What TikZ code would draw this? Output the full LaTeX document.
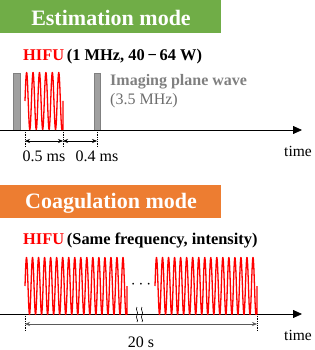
\documentclass[tikz,border=0pt]{standalone}
\usepackage{fontspec}
\setmainfont{Liberation Serif}
\usetikzlibrary{arrows.meta}
\definecolor{estgreen}{RGB}{112,173,71}
\definecolor{coagorange}{RGB}{237,125,49}
\definecolor{hifured}{RGB}{255,0,0}
\definecolor{imggray}{RGB}{128,128,128}
\tikzset{
  titlebox/.style={font=\fontsize{22}{24}\selectfont\bfseries, text=white},
  axisline/.style={line width=0.8pt, -{Triangle[length=9pt,width=8pt]}},
  wave/.style={hifured, line width=1.3pt, line join=round},
  bar/.style={fill=imggray!75, draw=imggray, line width=0.6pt},
  guide/.style={densely dotted, line width=0.8pt},
  dimline/.style={line width=0.6pt, {Stealth[length=5pt,width=4pt]}-{Stealth[length=5pt,width=4pt]}},
  lbl/.style={font=\fontsize{16}{18}\selectfont, inner sep=0pt},
  timelbl/.style={font=\fontsize{15.5}{18}\selectfont, inner sep=0pt}
}
\begin{document}
\begin{tikzpicture}[x=1pt,y=-1pt]
\useasboundingbox (0,0) rectangle (315,350);
% ---------- Estimation mode ----------
\fill[estgreen] (0,0) rectangle (221,33);
\node[titlebox] (t1) at (111,18) {Estimation mode};
\node[lbl, anchor=west, font=\fontsize{16.4}{18}\selectfont\bfseries] (h1) at (23,57)
  {\textcolor{hifured}{HIFU}\,(1 MHz, 40\,−\,64 W)};
\coordinate (a1s) at (0,130);
\coordinate (a1e) at (302,130);
\draw[bar] (13,73) rectangle (20,130);
\draw[bar] (94,73) rectangle (100,130);
\draw[axisline] (a1s) -- (a1e);
\draw[wave] (25,101) -- plot[domain=0:5.75, samples=300] ({25+\x*6.43}, {101-28.5*sin(360*\x)}) -- (63,129.5) -- (63,101);
\node[lbl, anchor=west, text=imggray, font=\fontsize{16}{18}\selectfont\bfseries] (img) at (110,82) {Imaging plane wave};
\node[lbl, anchor=west, text=imggray!85!black] (freq) at (110,101) {(3.5 MHz)};
\coordinate (g1) at (25,130); \coordinate (g1b) at (25,147);
\coordinate (g2) at (63,130); \coordinate (g2b) at (63,147);
\coordinate (g3) at (97,130); \coordinate (g3b) at (97,147);
\draw[guide] (g1) -- (g1b);
\draw[guide] (g2) -- (g2b);
\draw[guide] (g3) -- (g3b);
\coordinate (d1) at (25,141); \coordinate (d2) at (63,141); \coordinate (d3) at (97,141);
\draw[dimline] (d1) -- (d2);
\draw[dimline] (d2) -- (d3);
\node[lbl] (l05) at (44,156) {0.5 ms};
\node[lbl] (l04) at (97,156) {0.4 ms};
\node[timelbl, anchor=west] (time1) at (284,151) {time};
% ---------- Coagulation mode ----------
\fill[coagorange] (0,185) rectangle (221,218);
\node[titlebox] (t2) at (111,203) {Coagulation mode};
\node[lbl, anchor=west, font=\fontsize{16.4}{18}\selectfont\bfseries] (h2) at (23,240)
  {\textcolor{hifured}{HIFU}\,(Same frequency, intensity)};
\coordinate (a2s) at (0,314);
\coordinate (a2e) at (302,314);
\draw[axisline] (a2s) -- (a2e);
\draw[wave] (25,286) -- plot[domain=0:16.75, samples=800] ({25+\x*6.03}, {286-28.5*sin(360*\x)}) -- (127,314) -- (127,286);
\draw[wave] (155,286) -- plot[domain=0:16.75, samples=800] ({155+\x*6.03}, {286-28.5*sin(360*\x)}) -- (257,314) -- (257,286);
\node[lbl] (dots) at (141,285) {$\cdots$};
\draw[line width=0.6pt, fill=white] (137,307) .. controls (135,310) and (139,312) .. (137,315) .. controls (135,318) and (139,320) .. (137,322);
\draw[line width=0.6pt] (142,307) .. controls (140,310) and (144,312) .. (142,315) .. controls (140,318) and (144,320) .. (142,322);
\coordinate (c1) at (25,314); \coordinate (c1b) at (25,331);
\coordinate (c2) at (257,314); \coordinate (c2b) at (257,331);
\draw[guide] (c1) -- (c1b);
\draw[guide] (c2) -- (c2b);
\coordinate (e1) at (25,324); \coordinate (e2) at (257,324);
\draw[dimline, draw=imggray!70!black] (e1) -- (e2);
\node[lbl] (l20) at (141,342) {20 s};
\node[timelbl, anchor=west] (time2) at (284,335) {time};
\end{tikzpicture}
\end{document}
